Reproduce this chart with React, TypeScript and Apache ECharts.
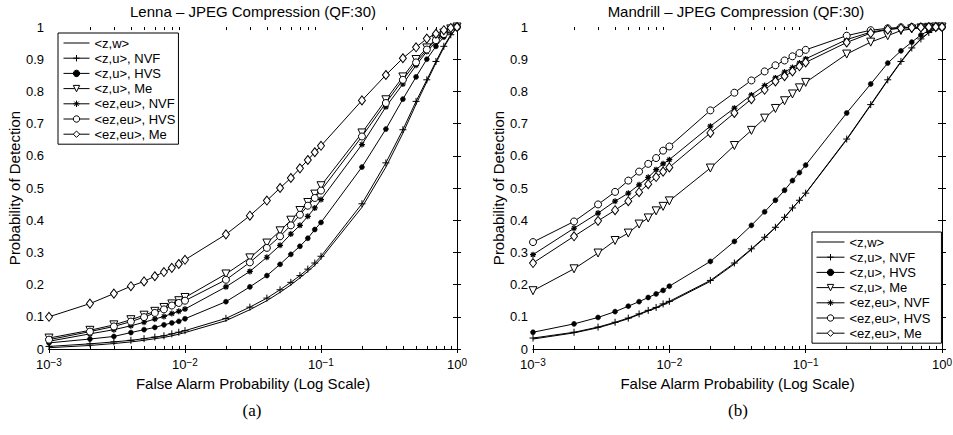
import React, { useEffect, useRef } from 'react';
import * as echarts from 'echarts';

// False alarm probabilities (x values)
const FA = [
  0.001, 0.002, 0.003, 0.004, 0.005, 0.006, 0.007, 0.008, 0.009,
  0.01, 0.02, 0.03, 0.04, 0.05, 0.06, 0.07, 0.08, 0.09,
  0.1, 0.2, 0.3, 0.4, 0.5, 0.6, 0.7, 0.8, 0.9, 1.0,
];

const SERIES_NAMES = ['<z,w>', '<z,u>, NVF', '<z,u>, HVS', '<z,u>, Me', '<ez,eu>, NVF', '<ez,eu>, HVS', '<ez,eu>, Me'];

// Lenna – probability of detection
const lennaZW = [0.004, 0.011, 0.017, 0.022, 0.027, 0.032, 0.036, 0.041, 0.046, 0.051, 0.088, 0.122, 0.150, 0.176, 0.199, 0.221, 0.241, 0.260, 0.281, 0.440, 0.565, 0.670, 0.760, 0.830, 0.888, 0.936, 0.973, 1.0];
const lennaZuNVF = [0.008, 0.016, 0.022, 0.027, 0.032, 0.037, 0.041, 0.047, 0.052, 0.057, 0.095, 0.130, 0.158, 0.184, 0.207, 0.228, 0.248, 0.267, 0.288, 0.451, 0.578, 0.681, 0.769, 0.836, 0.893, 0.940, 0.976, 1.0];
const lennaZuHVS = [0.019, 0.031, 0.039, 0.051, 0.060, 0.067, 0.075, 0.081, 0.086, 0.094, 0.147, 0.193, 0.228, 0.263, 0.294, 0.319, 0.344, 0.371, 0.393, 0.565, 0.683, 0.776, 0.845, 0.900, 0.940, 0.969, 0.987, 1.0];
const lennaZuMe = [0.034, 0.058, 0.075, 0.091, 0.105, 0.117, 0.129, 0.140, 0.150, 0.160, 0.233, 0.283, 0.329, 0.367, 0.400, 0.430, 0.455, 0.481, 0.507, 0.671, 0.774, 0.845, 0.899, 0.935, 0.963, 0.981, 0.994, 1.0];
const lennaEzNVF = [0.024, 0.047, 0.060, 0.072, 0.083, 0.093, 0.101, 0.110, 0.117, 0.124, 0.193, 0.241, 0.285, 0.322, 0.357, 0.384, 0.412, 0.438, 0.464, 0.635, 0.752, 0.823, 0.881, 0.924, 0.953, 0.974, 0.990, 1.0];
const lennaEzHVS = [0.029, 0.054, 0.070, 0.085, 0.099, 0.112, 0.123, 0.135, 0.143, 0.150, 0.215, 0.269, 0.314, 0.350, 0.384, 0.417, 0.445, 0.469, 0.492, 0.660, 0.764, 0.836, 0.890, 0.930, 0.959, 0.978, 0.992, 1.0];
const lennaEzMe = [0.100, 0.141, 0.172, 0.195, 0.210, 0.226, 0.239, 0.252, 0.264, 0.277, 0.356, 0.414, 0.461, 0.500, 0.531, 0.561, 0.587, 0.611, 0.631, 0.772, 0.851, 0.903, 0.937, 0.964, 0.979, 0.990, 0.997, 1.0];

// Mandrill – probability of detection
const mandZW = [0.031, 0.050, 0.066, 0.081, 0.094, 0.107, 0.118, 0.127, 0.137, 0.145, 0.210, 0.264, 0.309, 0.345, 0.377, 0.408, 0.437, 0.461, 0.483, 0.650, 0.757, 0.834, 0.891, 0.933, 0.962, 0.982, 0.994, 1.0];
const mandZuNVF = [0.034, 0.052, 0.068, 0.083, 0.096, 0.109, 0.120, 0.129, 0.140, 0.148, 0.213, 0.267, 0.311, 0.347, 0.378, 0.409, 0.438, 0.462, 0.484, 0.652, 0.759, 0.836, 0.893, 0.935, 0.963, 0.983, 0.995, 1.0];
const mandZuHVS = [0.052, 0.078, 0.098, 0.116, 0.133, 0.147, 0.160, 0.171, 0.182, 0.195, 0.272, 0.334, 0.384, 0.426, 0.462, 0.493, 0.523, 0.548, 0.571, 0.733, 0.823, 0.888, 0.926, 0.953, 0.975, 0.989, 0.997, 1.0];
const mandZuMe = [0.181, 0.249, 0.298, 0.337, 0.360, 0.388, 0.407, 0.429, 0.443, 0.460, 0.562, 0.632, 0.679, 0.717, 0.747, 0.771, 0.792, 0.811, 0.828, 0.916, 0.953, 0.973, 0.989, 0.994, 0.997, 0.999, 1.0, 1.0];
const mandEzNVF = [0.293, 0.375, 0.422, 0.459, 0.484, 0.510, 0.533, 0.557, 0.575, 0.588, 0.692, 0.748, 0.789, 0.818, 0.842, 0.860, 0.874, 0.888, 0.901, 0.961, 0.984, 0.993, 0.997, 0.999, 1.0, 1.0, 1.0, 1.0];
const mandEzHVS = [0.332, 0.396, 0.449, 0.488, 0.523, 0.551, 0.575, 0.593, 0.616, 0.629, 0.741, 0.796, 0.834, 0.862, 0.881, 0.896, 0.909, 0.919, 0.929, 0.973, 0.990, 0.996, 0.999, 1.0, 1.0, 1.0, 1.0, 1.0];
const mandEzMe = [0.267, 0.350, 0.398, 0.431, 0.459, 0.487, 0.512, 0.534, 0.551, 0.564, 0.671, 0.733, 0.776, 0.805, 0.831, 0.847, 0.862, 0.878, 0.890, 0.952, 0.981, 0.992, 0.996, 0.998, 0.999, 1.0, 1.0, 1.0];

const LENNA = [lennaZW, lennaZuNVF, lennaZuHVS, lennaZuMe, lennaEzNVF, lennaEzHVS, lennaEzMe];
const MANDRILL = [mandZW, mandZuNVF, mandZuHVS, mandZuMe, mandEzNVF, mandEzHVS, mandEzMe];

const TITLES = ['Lenna – JPEG Compression (QF:30)', 'Mandrill – JPEG Compression (QF:30)'];
const CAPTIONS = ['(a)', '(b)'];
const X_NAME = 'False Alarm Probability (Log Scale)';
const Y_NAME = 'Probability of Detection';

// log-axis minor tick positions (2..9 within each decade), in exponent space
const MINOR_MULT = [2, 3, 4, 5, 6, 7, 8, 9];
const DECADES = [-3, -2, -1];

const FONT = 'Liberation Sans, Arial, Helvetica, sans-serif';

const PLUS = 'path://M0,-1L0,1M-1,0L1,0';
const STAR = 'path://M0,-1L0,1M-1,0L1,0M-0.7,-0.7L0.7,0.7M-0.7,0.7L0.7,-0.7';
const TRI_DOWN = 'path://M-1,-0.9L1,-0.9L0,1Z';

const MARKERS: any[] = [
  { symbol: 'none', symbolSize: 0, itemStyle: { color: '#000', borderColor: '#000', borderWidth: 0 } },
  { symbol: PLUS, symbolSize: 7, itemStyle: { color: '#000', borderColor: '#000', borderWidth: 1 } },
  { symbol: 'circle', symbolSize: 5, itemStyle: { color: '#000', borderColor: '#000', borderWidth: 0.5 } },
  { symbol: TRI_DOWN, symbolSize: 8, itemStyle: { color: '#fff', borderColor: '#000', borderWidth: 1 } },
  { symbol: STAR, symbolSize: 6, itemStyle: { color: '#000', borderColor: '#000', borderWidth: 1.2 } },
  { symbol: 'circle', symbolSize: 7, itemStyle: { color: '#fff', borderColor: '#000', borderWidth: 1 } },
  { symbol: 'diamond', symbolSize: [7, 9], itemStyle: { color: '#fff', borderColor: '#000', borderWidth: 1 } },
];

const GRIDS = [
  { left: 49, top: 27, width: 408, height: 322 },
  { left: 533, top: 27, width: 409, height: 322 },
];

function buildOption() {
  const minorTicks: number[] = [];
  DECADES.forEach((d) => MINOR_MULT.forEach((m) => minorTicks.push(d + Math.log10(m))));

  const tickLine = { lineStyle: { color: '#000', width: 1 } };
  const xAxes: any[] = [];
  const yAxes: any[] = [];
  GRIDS.forEach((_, gi) => {
    xAxes.push({
      type: 'log', logBase: 10, gridIndex: gi, min: 0.001, max: 1, position: 'bottom',
      name: X_NAME, nameLocation: 'middle', nameGap: 24,
      nameTextStyle: { fontSize: 15, color: '#000', fontFamily: FONT },
      axisLine: { show: true, ...tickLine },
      axisTick: { show: true, inside: true, length: 4, ...tickLine },
      splitLine: { show: false }, minorTick: { show: false },
      axisLabel: {
        show: true, showMinLabel: true, showMaxLabel: true, margin: 8, hideOverlap: false,
        formatter: (v: number) => {
          const e = Math.round(Math.log10(v));
          return `{b|10}{s|${e < 0 ? '\u2212' + -e : e}}`;
        },
        rich: {
          b: { fontSize: 13, color: '#000', fontFamily: FONT },
          s: { fontSize: 10, color: '#000', fontFamily: FONT, verticalAlign: 'bottom', padding: [0, 0, 5, 0] },
        },
      },
    });
    xAxes.push({
      type: 'log', logBase: 10, gridIndex: gi, min: 0.001, max: 1, position: 'top',
      axisLine: { show: true, ...tickLine },
      axisTick: { show: true, inside: true, length: 4, ...tickLine },
      axisLabel: { show: false }, splitLine: { show: false },
    });
    ['bottom', 'top'].forEach((pos) => {
      xAxes.push({
        type: 'value', gridIndex: gi, min: -3, max: 0, position: pos,
        axisLine: { show: false },
        axisTick: { show: true, inside: true, length: 3, customValues: minorTicks, ...tickLine },
        axisLabel: { show: false }, splitLine: { show: false },
      });
    });
    yAxes.push({
      type: 'value', gridIndex: gi, min: 0, max: 1, interval: 0.1, position: 'left',
      name: Y_NAME, nameLocation: 'middle', nameGap: 25,
      nameTextStyle: { fontSize: 15, color: '#000', fontFamily: FONT },
      axisLine: { show: true, ...tickLine },
      axisTick: { show: true, inside: true, length: 4, ...tickLine },
      splitLine: { show: false },
      axisLabel: {
        show: true, margin: 5, fontSize: 13, color: '#000', fontFamily: FONT,
        formatter: (v: number) => String(Math.round(v * 10) / 10),
      },
    });
    yAxes.push({
      type: 'value', gridIndex: gi, min: 0, max: 1, interval: 0.1, position: 'right',
      axisLine: { show: true, ...tickLine },
      axisTick: { show: true, inside: true, length: 4, ...tickLine },
      axisLabel: { show: false }, splitLine: { show: false },
    });
  });

  const series: any[] = [];
  [LENNA, MANDRILL].forEach((set, gi) => {
    set.forEach((vals, si) => {
      const mk = MARKERS[si];
      series.push({
        type: 'line',
        name: SERIES_NAMES[si],
        xAxisIndex: gi * 4,
        yAxisIndex: gi * 2,
        data: FA.map((x, i) => [x, vals[i]]),
        symbol: mk.symbol,
        symbolSize: mk.symbolSize,
        showSymbol: mk.symbol !== 'none',
        itemStyle: mk.itemStyle,
        lineStyle: { color: '#000', width: 1 },
        silent: true,
        emphasis: { disabled: true },
        z: 2 + si * 0.01,
      });
    });
  });

  const legendData = SERIES_NAMES.map((n, i) => (i === 0 ? { name: n, itemStyle: { opacity: 0 } } : { name: n }));
  const legendCommon = {
    orient: 'vertical',
    data: legendData,
    selectedMode: false,
    backgroundColor: '#fff',
    borderColor: '#000',
    borderWidth: 1,
    borderRadius: 0,
    itemHeight: 8,
    itemGap: 1.2,
    lineStyle: { width: 1, color: '#000' },
    itemStyle: { borderWidth: 1 },
    textStyle: { fontSize: 13, color: '#000', fontFamily: FONT, lineHeight: 14 },
  };

  const titleStyle = { fontSize: 15, fontWeight: 'normal', color: '#000', fontFamily: FONT };
  const capStyle = { fontSize: 17, fontWeight: 'normal', color: '#000', fontFamily: 'Liberation Serif, Times New Roman, serif' };

  return {
    animation: false,
    backgroundColor: '#fff',
    title: [
      { text: TITLES[0], left: 253, top: 4, textAlign: 'center', textStyle: titleStyle, padding: 0 },
      { text: TITLES[1], left: 736, top: 4, textAlign: 'center', textStyle: titleStyle, padding: 0 },
      { text: CAPTIONS[0], left: 252, top: 402, textAlign: 'center', textStyle: capStyle, padding: 0 },
      { text: CAPTIONS[1], left: 738, top: 402, textAlign: 'center', textStyle: capStyle, padding: 0 },
    ],
    legend: [
      { ...legendCommon, left: 58, top: 33, itemWidth: 26, padding: [3, 3, 3, 5] },
      { ...legendCommon, left: 812, top: 232, itemWidth: 28, padding: [3, 11, 3, 4] },
    ],
    grid: GRIDS.map((g) => ({ ...g, containLabel: false, outerBoundsMode: 'none' })),
    xAxis: xAxes,
    yAxis: yAxes,
    series,
  };
}

export default function App() {
  const ref = useRef<HTMLDivElement>(null);
  useEffect(() => {
    if (!ref.current) return;
    const chart = echarts.init(ref.current, undefined, { renderer: 'svg' });
    chart.setOption(buildOption() as any);
    return () => chart.dispose();
  }, []);
  return <div ref={ref} style={{ position: 'absolute', left: 0, top: 0, width: 953, height: 435, background: '#fff' }} />;
}
